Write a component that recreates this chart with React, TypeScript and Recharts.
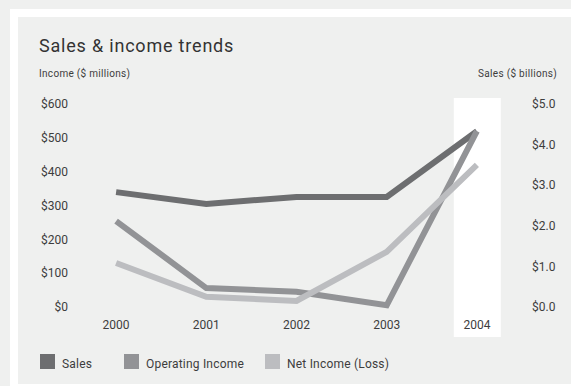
import React from 'react';
import { ComposedChart, Line, Bar, XAxis, YAxis } from 'recharts';

const years = ['2000', '2001', '2002', '2003', '2004'];
const sales = [2.83, 2.54, 2.71, 2.71, 4.33];
const operatingIncome = [254, 56, 45, 5, 520];
const netIncome = [130, 30, 18, 163, 420];
const highlight = [null, null, null, null, 5];
const incomeTicks = [0, 100, 200, 300, 400, 500, 600];
const salesTicks = [0, 1, 2, 3, 4, 5];

const series = [
  { key: 'sales', name: 'Sales', color: '#6d6e70', axis: 'right', width: 84 },
  { key: 'operating', name: 'Operating Income', color: '#929396', axis: 'left', width: 141 },
  { key: 'net', name: 'Net Income (Loss)', color: '#bcbdc0', axis: 'left', width: 160 },
];

const data = years.map((y, i) => ({
  year: y,
  sales: sales[i],
  operating: operatingIncome[i],
  net: netIncome[i],
  highlight: highlight[i],
}));

const FONT = 'Roboto, "DejaVu Sans", sans-serif';
const TXT = '#3d3d3d';
const BG = '#eff0ef';

// white column behind the latest year, stretched past the plot so it also covers the tick label
const HighlightShape = (props: any) => {
  const { x, y, width, height, payload } = props;
  if (payload == null || payload.highlight == null) return null;
  return <rect x={x} y={y - 6} width={width} height={height + 36} fill="#ffffff" />;
};

export default function App() {
  const tick = { fill: TXT, fontSize: 12, fontFamily: FONT };
  return (
    <div style={{ position: 'fixed', left: 0, top: 0, width: 571, height: 386, background: BG, fontFamily: FONT, overflow: 'hidden' }}>
      <div style={{ position: 'absolute', left: 10, top: 9, width: 600, height: 377, background: '#ffffff' }} />
      <div style={{ position: 'absolute', left: 18, top: 17, width: 600, height: 367, background: BG }} />
      <div style={{ position: 'absolute', left: 39, top: 37, fontSize: 18, lineHeight: 1, letterSpacing: 0.8, color: '#333' }}>
        Sales &amp; income trends
      </div>
      <div style={{ position: 'absolute', left: 39, top: 69, fontSize: 10, lineHeight: 1, letterSpacing: 0.3, color: TXT }}>
        Income ($ millions)
      </div>
      <div style={{ position: 'absolute', right: 571 - 557, top: 69, fontSize: 10, lineHeight: 1, letterSpacing: 0.3, color: TXT }}>
        Sales ($ billions)
      </div>
      <div style={{ position: 'absolute', left: 18, top: 17 }}>
        <ComposedChart width={553} height={367} data={data} margin={{ top: 87, right: 0, bottom: 47, left: 0 }} barSize={47}>
          <Bar dataKey="highlight" yAxisId="right" shape={HighlightShape} isAnimationActive={false} />
          <XAxis dataKey="year" axisLine={false} tickLine={false} tickSize={0} tickMargin={13} height={30} tick={tick} interval={0} />
          <YAxis yAxisId="left" orientation="left" domain={[0, 600]} ticks={incomeTicks} width={53}
            axisLine={false} tickLine={false} tickSize={0} tickMargin={3} tick={tick}
            tickFormatter={(v: number) => `$${v}`} />
          <YAxis yAxisId="right" orientation="right" domain={[0, 5]} ticks={salesTicks} width={49}
            axisLine={false} tickLine={false} tickSize={0} tickMargin={10} tick={tick}
            tickFormatter={(v: number) => `$${v.toFixed(1)}`} />
          {series.map((s) => (
            <Line key={s.key} dataKey={s.key} name={s.name} yAxisId={s.axis} type="linear" stroke={s.color}
              strokeWidth={6} dot={false} activeDot={false} strokeLinejoin="miter" isAnimationActive={false} />
          ))}
        </ComposedChart>
      </div>
      <div style={{ position: 'absolute', left: 40, top: 354, display: 'flex' }}>
        {series.map((s) => (
          <div key={s.key} style={{ width: s.width, height: 15, position: 'relative' }}>
            <div style={{ position: 'absolute', left: 0, top: 0, width: 15, height: 15, background: s.color }} />
            <div style={{ position: 'absolute', left: 22, top: 4, fontSize: 12, lineHeight: 1, letterSpacing: 0.2, color: TXT, whiteSpace: 'nowrap' }}>
              {s.name}
            </div>
          </div>
        ))}
      </div>
    </div>
  );
}
